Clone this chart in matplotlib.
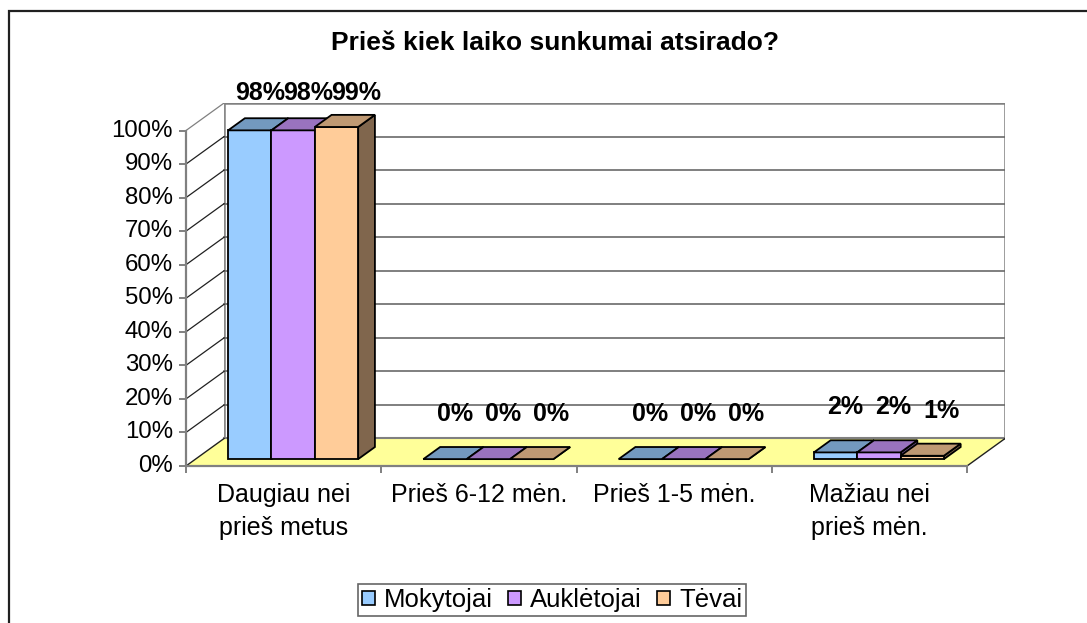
import matplotlib
matplotlib.use('Agg')
import matplotlib.pyplot as plt
from matplotlib.patches import Polygon, Rectangle, Patch
from matplotlib.colors import to_rgb

plt.rcParams['font.family'] = ['Liberation Sans', 'DejaVu Sans']

# chart data
title = 'Prieš kiek laiko sunkumai atsirado?'
categories = ['Daugiau nei\nprieš metus', 'Prieš 6-12 mėn.', 'Prieš 1-5 mėn.', 'Mažiau nei\nprieš mėn.']
series_names = ['Mokytojai', 'Auklėtojai', 'Tėvai']
mokytojai = [98, 0, 0, 2]
aukletojai = [98, 0, 0, 2]
tevai = [99, 0, 0, 1]
y_ticks = [0, 10, 20, 30, 40, 50, 60, 70, 80, 90, 100]

front_colors = ['#99CCFF', '#CC99FF', '#FFCC99']

# fake 3d geometry (data units: categories on x, percent on y)
DX = 0.195   # depth shift along x for full depth
DY = 8.2     # depth shift along y for full depth
BAR_W = 0.222
Z0, Z1 = 0.25, 0.69
GRID = '#6a6a6a'


def shade(c, f):
    r, g, b = to_rgb(c)
    return (r * f, g * f, b * f)


def P(x, y, z):
    return (x + z * DX, y + z * DY)


W_PX, H_PX = 1087, 623
fig = plt.figure(figsize=(W_PX / 100, H_PX / 100), dpi=100)
fig.patch.set_facecolor('white')

# outer chart frame (only top and left edge are inside the picture)
fig.add_artist(Rectangle((9 / W_PX, -0.2), 1.5, 1.2 - 11 / H_PX, transform=fig.transFigure,
                         fill=False, edgecolor='#202020', linewidth=1.6))

ax = fig.add_axes([186 / W_PX, (H_PX - 466) / H_PX, (4 + DX) * 195.25 / W_PX, 363 / H_PX])
ax.set_xlim(0, 4 + DX)
ax.set_ylim(0, 100 + DY)
ax.axis('off')

n = len(categories)

# walls and floor
ax.add_patch(Polygon([P(0, 0, 1), P(n, 0, 1), P(n, 100, 1), P(0, 100, 1)], closed=True,
                     facecolor='white', edgecolor='#808080', linewidth=1.8, zorder=1))
ax.add_patch(Polygon([P(0, 0, 0), P(0, 0, 1), P(0, 100, 1), P(0, 100, 0)], closed=True,
                     facecolor='white', edgecolor='none', zorder=1))
for t in y_ticks[1:-1]:
    xs, ys = zip(P(0, t, 1), P(n, t, 1))
    ax.plot(xs, ys, color=GRID, linewidth=1.2, zorder=2)
for t in y_ticks[1:]:
    xs, ys = zip(P(0, t, 0), P(0, t, 1))
    ax.plot(xs, ys, color='#202020' if t < 100 else '#808080', linewidth=0.9, zorder=2)

ax.add_patch(Polygon([P(0, 0, 0), P(n, 0, 0), P(n, 0, 1), P(0, 0, 1)], closed=True,
                     facecolor='#FFFF99', edgecolor='none', zorder=3))
xs, ys = zip(P(0, 0, 1), P(n, 0, 1))
ax.plot(xs, ys, color='#808080', linewidth=1.5, zorder=3)
xs, ys = zip(P(n, 0, 0), P(n, 0, 1))
ax.plot(xs, ys, color='#202020', linewidth=1.0, zorder=3)
xs, ys = zip(P(0, 0, 0), P(0, 0, 1))
ax.plot(xs, ys, color='#202020', linewidth=1.0, zorder=3)

# axes lines and ticks
ax.plot([0, 0], [0, 100], color='#808080', linewidth=1.6, zorder=4, clip_on=False)
ax.plot([0, n], [0, 0], color='#808080', linewidth=1.6, zorder=4, clip_on=False)
ax.plot([0] * len(y_ticks), y_ticks, linestyle='none', marker=0, markersize=5,
        markeredgewidth=1.4, color='#808080', clip_on=False, zorder=4)
ax.plot(list(range(n + 1)), [0] * (n + 1), linestyle='none', marker=3, markersize=5,
        markeredgewidth=1.4, color='#808080', clip_on=False, zorder=4)

for t in y_ticks:
    ax.annotate(f'{t}%', (0, t), xytext=(-13, 0), textcoords='offset pixels',
                ha='right', va='center', fontsize=17.3, annotation_clip=False)

for g, cat in enumerate(categories):
    ax.annotate(cat, (g + 0.5, 0), xytext=(0, -17), textcoords='offset pixels',
                ha='center', va='top', fontsize=18, linespacing=1.5,
                multialignment='center', annotation_clip=False)

# bars
all_series = [mokytojai, aukletojai, tevai]
for g in range(n):
    for s, values in enumerate(all_series):
        h = values[g]
        c = front_colors[s]
        x0 = g + 0.5 - 1.5 * BAR_W + s * BAR_W
        x1 = x0 + BAR_W
        zo = 10 + g * 10 + s * 3
        side = [P(x1, 0, Z0), P(x1, 0, Z1), P(x1, h, Z1), P(x1, h, Z0)]
        front = [P(x0, 0, Z0), P(x1, 0, Z0), P(x1, h, Z0), P(x0, h, Z0)]
        top = [P(x0, h, Z0), P(x1, h, Z0), P(x1, h, Z1), P(x0, h, Z1)]
        ax.add_patch(Polygon(side, closed=True, facecolor=shade(c, 0.5), edgecolor='black',
                             linewidth=1.3, joinstyle='miter', zorder=zo))
        ax.add_patch(Polygon(front, closed=True, facecolor=c, edgecolor='black',
                             linewidth=1.3, joinstyle='miter', zorder=zo + 1))
        ax.add_patch(Polygon(top, closed=True, facecolor=shade(c, 0.75), edgecolor='black',
                             linewidth=1.3, joinstyle='miter', zorder=zo + 2))
        # value label above the bar, kept inside the chart area like Excel does
        px, py = ax.transData.transform(P((x0 + x1) / 2, h, (Z0 + Z1) / 2))
        py = min(py + 39, H_PX - 93)
        ax.annotate(f'{h}%', (px + 1.6 + s * 4.7, py), xycoords='figure pixels',
                    ha='center', va='center', fontsize=18, fontweight='bold',
                    annotation_clip=False, zorder=100)

fig.text(554.7 / W_PX, 1 - 42.8 / H_PX, title, ha='center', va='center',
         fontsize=19, fontweight='bold')

handles = [Patch(facecolor=c, edgecolor='black', linewidth=1.2) for c in front_colors]
leg = fig.legend(handles, series_names, loc='center', bbox_to_anchor=(552 / W_PX, 1 - 600 / H_PX),
                 ncol=3, frameon=True, fancybox=False, edgecolor='#404040', fontsize=18.5,
                 handlelength=0.5, handleheight=0.5, handletextpad=0.35, columnspacing=0.6,
                 borderpad=0.15, borderaxespad=0)
leg.get_frame().set_linewidth(1.2)

fig.savefig('out.png', dpi=100)
